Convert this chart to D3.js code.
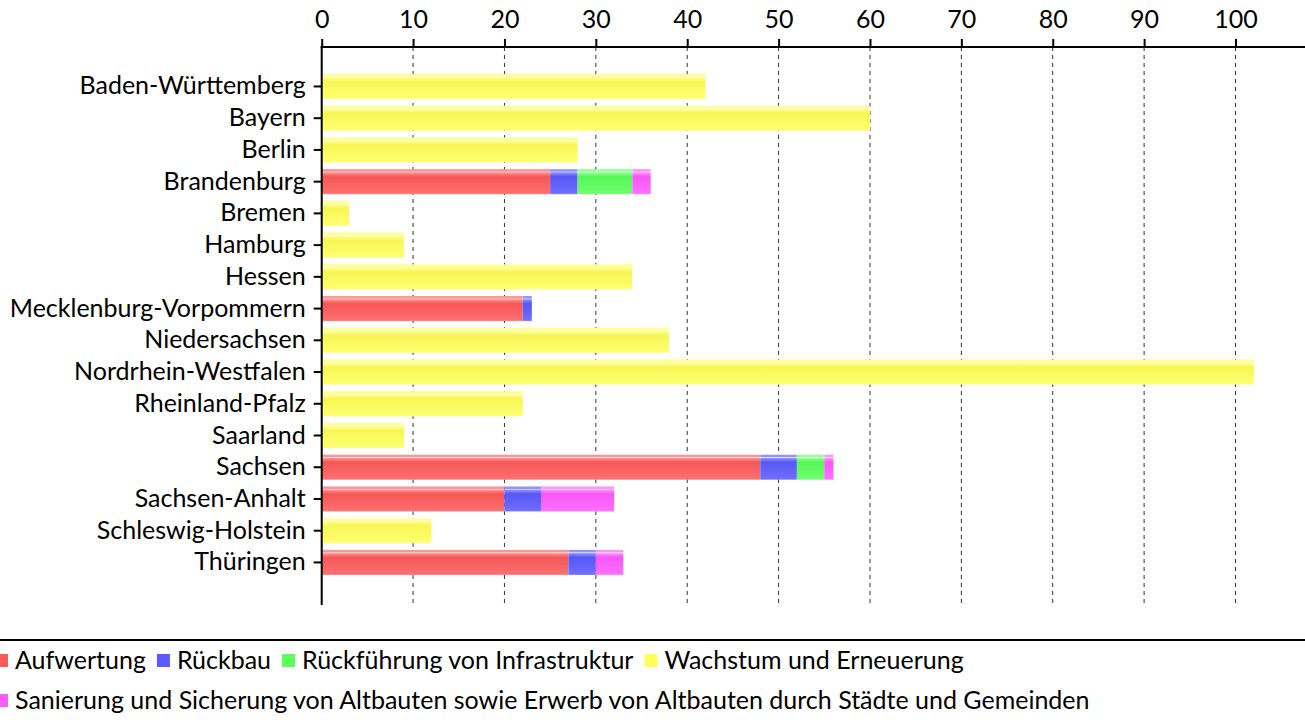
<!DOCTYPE html>
<html>
<head>
<meta charset="utf-8">
<script src="https://cdn.jsdelivr.net/npm/d3@7"></script>
<style>
  body { margin: 0; background: #fff; }
  svg text { font-family: Lato, "Open Sans", sans-serif; fill: #000; }
</style>
</head>
<body>
<script>
const states = ["Baden-Württemberg", "Bayern", "Berlin", "Brandenburg", "Bremen", "Hamburg", "Hessen",
  "Mecklenburg-Vorpommern", "Niedersachsen", "Nordrhein-Westfalen", "Rheinland-Pfalz", "Saarland",
  "Sachsen", "Sachsen-Anhalt", "Schleswig-Holstein", "Thüringen"];

const seriesNames = ["Aufwertung", "Rückbau", "Rückführung von Infrastruktur", "Wachstum und Erneuerung",
  "Sanierung und Sicherung von Altbauten sowie Erwerb von Altbauten durch Städte und Gemeinden"];

const aufwertung = [0, 0, 0, 25, 0, 0, 0, 22, 0, 0, 0, 0, 48, 20, 0, 27];
const rueckbau = [0, 0, 0, 3, 0, 0, 0, 1, 0, 0, 0, 0, 4, 4, 0, 3];
const infrastruktur = [0, 0, 0, 6, 0, 0, 0, 0, 0, 0, 0, 0, 3, 0, 0, 0];
const wachstum = [42, 60, 28, 0, 3, 9, 34, 0, 38, 102, 22, 9, 0, 0, 12, 0];
const sanierung = [0, 0, 0, 2, 0, 0, 0, 0, 0, 0, 0, 0, 1, 8, 0, 3];

const xTicks = [0, 10, 20, 30, 40, 50, 60, 70, 80, 90, 100];

const colors = ["#ff5a5a", "#5a5aff", "#5aff5a", "#ffff5a", "#ff5aff"];

const width = 1305;
const height = 728;
const fontSize = "25px";

const rows = states.map((s, i) => ({
  state: s,
  s0: aufwertung[i], s1: rueckbau[i], s2: infrastruktur[i], s3: wachstum[i], s4: sanierung[i]
}));
const keys = ["s0", "s1", "s2", "s3", "s4"];
const stacked = d3.stack().keys(keys)(rows);

const svg = d3.select("body").append("svg")
  .attr("width", width)
  .attr("height", height);

const x = d3.scaleLinear().domain([0, 100]).range([321.7, 1235.5]);
const y = d3.scaleBand().domain(states).range([70.6, 578.3]).paddingInner(0.21).paddingOuter(0.105);

const plotTop = 47;
const plotBottom = 605;

// gradients, one per series
const defs = svg.append("defs");
colors.forEach((c, i) => {
  const base = d3.color(c);
  const g = defs.append("linearGradient")
    .attr("id", "grad" + i)
    .attr("x1", 0).attr("y1", 0).attr("x2", 0).attr("y2", 1);
  g.append("stop").attr("offset", "0%").attr("stop-color", d3.interpolateRgb(c, "#fff")(0.35));
  g.append("stop").attr("offset", "9%").attr("stop-color", d3.interpolateRgb(c, "#fff")(0.35));
  g.append("stop").attr("offset", "11%").attr("stop-color", d3.interpolateRgb(c, "#fff")(0.85));
  g.append("stop").attr("offset", "15%").attr("stop-color", d3.interpolateRgb(c, "#fff")(0.3));
  g.append("stop").attr("offset", "30%").attr("stop-color", base.darker(0.1).formatHex());
  g.append("stop").attr("offset", "95%").attr("stop-color", d3.interpolateRgb(c, "#fff")(0.12));
  g.append("stop").attr("offset", "100%").attr("stop-color", d3.interpolateRgb(c, "#fff")(0.3));
});

// dashed grid lines
svg.append("g")
  .selectAll("line")
  .data(xTicks)
  .enter()
  .append("line")
  .attr("x1", d => x(d)).attr("x2", d => x(d))
  .attr("y1", plotTop).attr("y2", plotBottom)
  .attr("stroke", "#333")
  .attr("stroke-width", 1)
  .attr("stroke-dasharray", "4,4");

// bars
svg.append("g")
  .selectAll("g")
  .data(stacked)
  .enter()
  .append("g")
  .attr("fill", (d, i) => "url(#grad" + i + ")")
  .selectAll("rect")
  .data(d => d.filter(p => p[1] > p[0]))
  .enter()
  .append("rect")
  .attr("x", d => x(d[0]))
  .attr("width", d => x(d[1]) - x(d[0]))
  .attr("y", d => y(d.data.state))
  .attr("height", y.bandwidth());

// top axis
const xAxis = svg.append("g")
  .attr("transform", "translate(0," + plotTop + ")")
  .call(d3.axisTop(x).tickValues(xTicks).tickSize(8).tickPadding(11).tickFormat(d3.format("d")));
xAxis.select(".domain").remove();
xAxis.selectAll(".tick line").attr("stroke", "#000").attr("stroke-width", 2);
xAxis.selectAll("text").style("font-size", fontSize);
svg.append("line")
  .attr("x1", x(0) - 1).attr("x2", width)
  .attr("y1", plotTop).attr("y2", plotTop)
  .attr("stroke", "#000").attr("stroke-width", 2);

// left axis
const yAxis = svg.append("g")
  .attr("transform", "translate(" + x(0) + ",0)")
  .call(d3.axisLeft(y).tickSize(8).tickPadding(8));
yAxis.select(".domain").remove();
yAxis.selectAll(".tick line").attr("stroke", "#000").attr("stroke-width", 2);
yAxis.selectAll("text").style("font-size", fontSize);
svg.append("line")
  .attr("x1", x(0)).attr("x2", x(0))
  .attr("y1", plotTop - 1).attr("y2", plotBottom)
  .attr("stroke", "#000").attr("stroke-width", 2);

// legend
svg.append("line")
  .attr("x1", 0).attr("x2", width)
  .attr("y1", 640).attr("y2", 640)
  .attr("stroke", "#000").attr("stroke-width", 2);

const legendRows = [[0, 1, 2, 3], [4]];
const legendY = [660, 700];
legendRows.forEach((items, r) => {
  let cx = -5;
  items.forEach(i => {
    const item = svg.append("g");
    item.append("rect")
      .attr("x", cx).attr("y", legendY[r] - 6)
      .attr("width", 13).attr("height", 13)
      .attr("fill", colors[i]);
    const t = item.append("text")
      .attr("x", cx + 20).attr("y", legendY[r])
      .attr("dy", "0.35em")
      .style("font-size", fontSize)
      .text(seriesNames[i]);
    cx += 20 + t.node().getComputedTextLength() + 11;
  });
});
</script>
</body>
</html>
